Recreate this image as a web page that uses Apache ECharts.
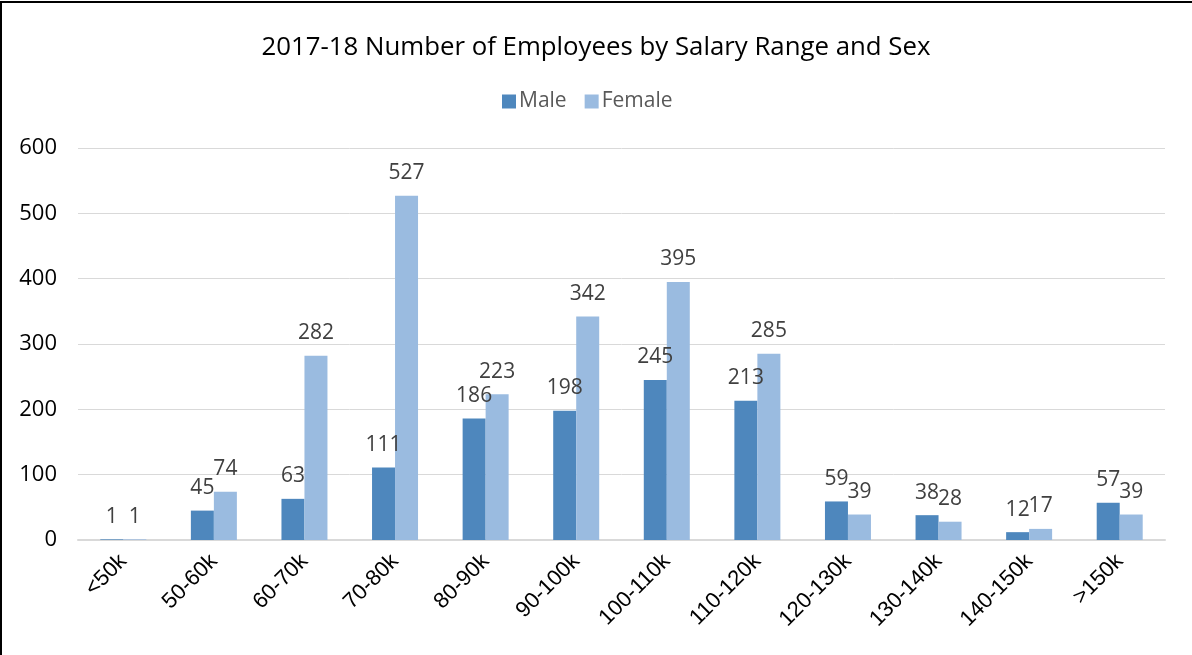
<!DOCTYPE html>
<html>
<head>
<meta charset="utf-8">
<script src="https://cdn.jsdelivr.net/npm/echarts@6/dist/echarts.min.js"></script>
<style>
  html, body { margin: 0; padding: 0; background: #fff; }
  #chart { width: 1192px; height: 655px; }
  .frame {
    position: absolute; left: 0; top: 1px; width: 1192px; height: 660px;
    border-left: 2px solid #000; border-top: 2px solid #000; pointer-events: none;
  }
</style>
</head>
<body>
<div id="chart"></div>
<div class="frame"></div>
<script>
// salary ranges
var categories = ['<50k', '50-60k', '60-70k', '70-80k', '80-90k', '90-100k', '100-110k', '110-120k', '120-130k', '130-140k', '140-150k', '>150k']
var male = [1, 45, 63, 111, 186, 198, 245, 213, 59, 38, 12, 57]
var female = [1, 74, 282, 527, 223, 342, 395, 285, 39, 28, 17, 39]
var yTicks = { min: 0, max: 600, interval: 100 }

var chart = echarts.init(document.getElementById('chart'))

var labelStyle = {
  show: true,
  position: 'top',
  distance: 12,
  color: '#404040',
  fontSize: 21,
  fontFamily: 'Open Sans'
}

chart.setOption({
  animation: false,
  title: {
    text: '2017-18 Number of Employees by Salary Range and Sex',
    left: 'center',
    top: 30,
    textStyle: { color: '#000', fontSize: 25.8, fontWeight: 'normal', fontFamily: 'Open Sans' }
  },
  legend: {
    top: 86,
    left: 497,
    itemWidth: 14,
    itemHeight: 14,
    itemGap: 18,
    icon: 'rect',
    textStyle: { color: '#595959', fontSize: 21, fontFamily: 'Open Sans', padding: [0, 0, 0, -2] },
    data: ['Male', 'Female']
  },
  grid: {
    left: 78,
    right: 27,
    top: 148,
    bottom: 115,
    containLabel: false
  },
  xAxis: {
    type: 'category',
    data: categories,
    axisTick: { show: false },
    axisLine: { lineStyle: { color: '#d9d9d9', width: 2 } },
    axisLabel: {
      interval: 0,
      rotate: 45,
      margin: 18,
      color: '#000',
      fontSize: 22,
      fontFamily: 'Liberation Sans'
    }
  },
  yAxis: {
    type: 'value',
    min: yTicks.min,
    max: yTicks.max,
    interval: yTicks.interval,
    axisLine: { show: false },
    axisTick: { show: false },
    axisLabel: { color: '#000', fontSize: 22, fontFamily: 'Open Sans', margin: 21 },
    splitLine: { lineStyle: { color: '#d9d9d9', width: 1 } }
  },
  series: [
    {
      name: 'Male',
      type: 'bar',
      barWidth: 23,
      barGap: '0%',
      itemStyle: { color: '#4E87BD' },
      label: labelStyle,
      data: male
    },
    {
      name: 'Female',
      type: 'bar',
      barWidth: 23,
      barGap: '0%',
      itemStyle: { color: '#9ABBE0' },
      label: labelStyle,
      data: female
    }
  ]
})

window.addEventListener('resize', function () {
  chart.resize()
})
</script>
</body>
</html>
